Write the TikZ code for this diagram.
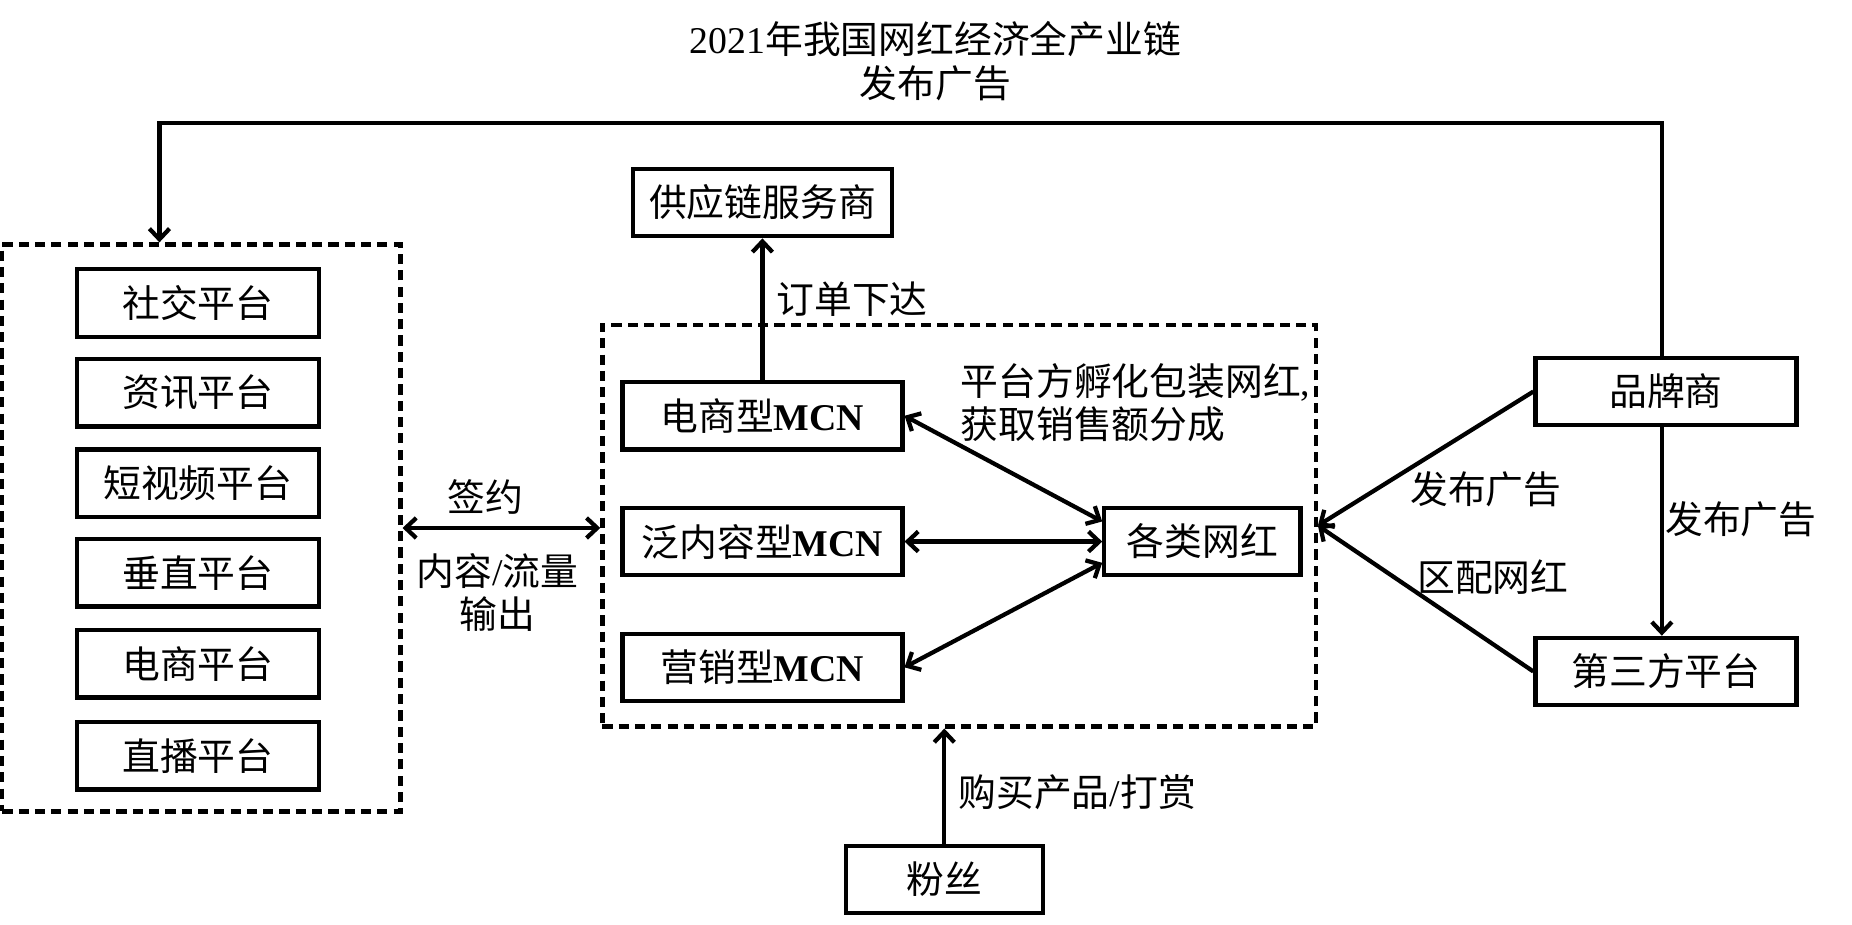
\documentclass[tikz,border=0pt]{standalone}
\usepackage{fontspec}
\setmainfont{Liberation Serif}
\newfontfamily\zhfont{Noto Sans CJK SC}
\newcommand{\zh}[1]{{\zhfont #1}}
\newcommand{\fs}{\fontsize{16pt}{18.5pt}\selectfont}
\usetikzlibrary{arrows.meta,calc}
\begin{document}
\begin{tikzpicture}[x=0.5pt,y=-0.5pt,
  box/.style={draw,line width=1.8pt,minimum height=28.5pt,inner sep=0pt,font=\fs},
  dbox/.style={draw,line width=1.8pt,dash pattern=on 4.3pt off 2.6pt,inner sep=0pt},
  arr/.style={line width=1.8pt,-{Straight Barb[length=4.5pt,width=8.5pt]}},
  darr/.style={line width=1.8pt,{Straight Barb[length=4.5pt,width=8.5pt]}-{Straight Barb[length=4.5pt,width=8.5pt]}},
  lbl/.style={font=\fs,inner sep=0pt}]
\useasboundingbox (0,0) rectangle (1568,783);

% title
\node[lbl,align=center] (title) at (792,51.5) {2021\zh{年我国网红经济全产业链}\\\zh{发布广告}};

% left platform group
\node[dbox,minimum width=168.5pt,minimum height=240pt] (plat) at (170.5,447) {};
\node[box,minimum width=102.5pt] (p1) at (167.5,256.5) {\zh{社交平台}};
\node[box,minimum width=102.5pt] (p2) at (167.5,332.5) {\zh{资讯平台}};
\node[box,minimum width=102.5pt] (p3) at (167.5,409) {\zh{短视频平台}};
\node[box,minimum width=102.5pt] (p4) at (167.5,485) {\zh{垂直平台}};
\node[box,minimum width=102.5pt] (p5) at (167.5,562) {\zh{电商平台}};
\node[box,minimum width=102.5pt] (p6) at (167.5,640) {\zh{直播平台}};

% MCN group
\node[dbox,minimum width=302pt,minimum height=170pt] (mcn) at (812,445) {};
\node[box,minimum width=109.5pt] (sup) at (645.5,171.5) {\zh{供应链服务商}};
\node[box,minimum width=118.5pt] (ecom) at (645.5,352) {\zh{电商型}\textbf{MCN}};
\node[box,minimum width=118.5pt] (gen) at (645.5,458.5) {\zh{泛内容型}\textbf{MCN}};
\node[box,minimum width=118.5pt] (mkt) at (645.5,565) {\zh{营销型}\textbf{MCN}};
\node[box,minimum width=83pt] (wh) at (1018,458.5) {\zh{各类网红}};

% right side
\node[box,minimum width=110.5pt] (brand) at (1410.5,331.5) {\zh{品牌商}};
\node[box,minimum width=110.5pt] (third) at (1410.5,568.5) {\zh{第三方平台}};

% fans
\node[box,minimum width=83.5pt] (fans) at (799.5,744.5) {\zh{粉丝}};

% connectors
\coordinate (tl) at (135,104);
\draw[arr] ([xshift=-1.75pt]brand.north) |- (tl) -- (tl |- plat.north);
\draw[darr] (plat.east) -- (plat.east -| mcn.west);
\draw[arr] (ecom.north) -- (sup.south);
\draw[darr] (ecom.east) -- ([yshift=8.5pt]wh.west);
\draw[darr] (gen.east) -- (wh.west);
\draw[darr] (mkt.east) -- ([yshift=-9pt]wh.west);
\draw[arr] (brand.west) -- (mcn.east);
\draw[arr] (third.west) -- (mcn.east);
\draw[arr] ([xshift=-1.75pt]brand.south) -- ([xshift=-1.75pt]third.north);
\draw[arr] (fans.north) -- (fans.north |- mcn.south);

% labels
\node[lbl] (l1) at (411,421) {\zh{签约}};
\node[lbl,align=center] (l2) at (421,501.5) {\zh{内容}/\zh{流量}\\\zh{输出}};
\node[lbl,anchor=west] (l3) at (657,253) {\zh{订单下达}};
\node[lbl,anchor=west,align=left] (l4) at (813,341) {\zh{平台方孵化包装网红},\\\zh{获取销售额分成}};
\node[lbl] (l5) at (1258,414) {\zh{发布广告}};
\node[lbl] (l6) at (1264,489) {\zh{区配网红}};
\node[lbl] (l7) at (1474,440) {\zh{发布广告}};
\node[lbl] (l8) at (912,671) {\zh{购买产品}/\zh{打赏}};
\end{tikzpicture}
\end{document}
